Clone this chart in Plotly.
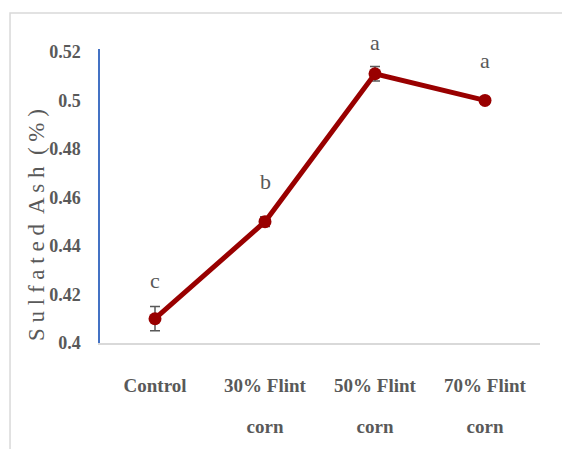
import plotly.graph_objects as go

categories = ["Control", "30% Flint corn", "50% Flint corn", "70% Flint corn"]
tick_labels = ["Control", "30% Flint<br>corn", "50% Flint<br>corn", "70% Flint<br>corn"]
ash_values = [0.410, 0.450, 0.511, 0.500]
ash_errors = [0.005, 0.002, 0.003, 0.0015]
letters = ["c", "b", "a", "a"]
letter_shift = [38, 40, 31, 40]
y_ticks = [0.4, 0.42, 0.44, 0.46, 0.48, 0.5, 0.52]

GRAY = "#595959"
FONT = "Liberation Serif"

fig = go.Figure()
fig.add_trace(go.Scatter(
    x=categories, y=ash_values, mode="lines+markers",
    line=dict(color="#990000", width=5),
    marker=dict(color="#990000", size=13),
    error_y=dict(type="data", array=ash_errors, color=GRAY, thickness=1.5, width=5),
    showlegend=False,
))

for c, v, l, s in zip(categories, ash_values, letters, letter_shift):
    fig.add_annotation(x=c, y=v, text=l, showarrow=False, yshift=s,
                       xanchor="center", yanchor="middle",
                       font=dict(family=FONT, size=22, color=GRAY))

fig.add_annotation(xref="paper", yref="paper", x=-0.177, y=0.40,
                   text="S u l f a t e d  A s h  ( % )", textangle=-90, showarrow=False,
                   font=dict(family=FONT, size=23, color=GRAY))

fig.add_shape(type="rect", xref="paper", yref="paper",
              x0=-0.2045, x1=1.08, y0=-0.40, y1=1.1224,
              line=dict(color="#D9D9D9", width=1.5), layer="below")

fig.update_layout(
    width=562, height=449,
    margin=dict(l=100, r=22, t=49, b=106),
    paper_bgcolor="white", plot_bgcolor="white",
    font=dict(family=FONT, color=GRAY),
)
fig.update_xaxes(
    tickmode="array", tickvals=categories,
    ticktext=["<span style='font-size:19px'><b>" + t.replace("<br>", "</b></span><br><span style='font-size:19px'><b>") + "</b></span>" for t in tick_labels],
    tickfont=dict(family=FONT, size=31, color=GRAY),
    range=[-0.5, 3.5], showline=True, linecolor="#D9D9D9", linewidth=2,
    showgrid=False, zeroline=False, ticks="", ticklabelstandoff=10, automargin=False,
)
fig.update_yaxes(
    range=[0.4, 0.5212], tickmode="array", tickvals=y_ticks,
    ticktext=[f"<b>{v:g}</b>" for v in y_ticks],
    tickfont=dict(family=FONT, size=18, color=GRAY),
    showline=True, linecolor="#4472C4", linewidth=1.5,
    showgrid=False, zeroline=False, ticks="", ticklabelstandoff=14, automargin=False,
)

fig.write_html("out.html", config={"displayModeBar": False},
               post_script="document.body.style.margin='0';")
